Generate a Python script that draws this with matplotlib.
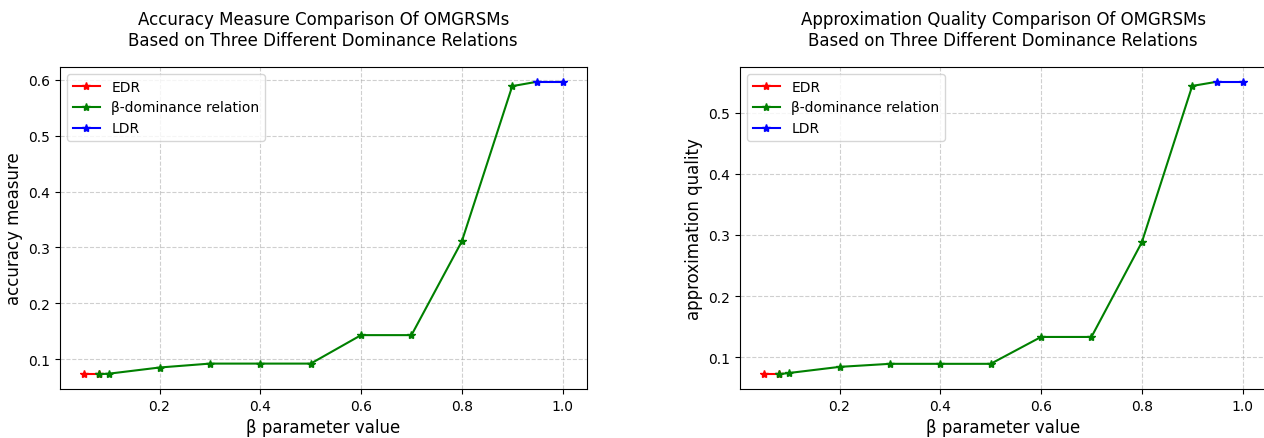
import numpy as np
import matplotlib.pyplot as plt

# beta values per relation
edr_x = [0.05, 0.08]
beta_x = [0.08, 0.1, 0.2, 0.3, 0.4, 0.5, 0.6, 0.7, 0.8, 0.9, 0.95]
ldr_x = [0.95, 1.0]

# accuracy measure
acc_edr = [0.073, 0.073]
acc_beta = [0.073, 0.074, 0.085, 0.092, 0.092, 0.092, 0.143, 0.143, 0.311, 0.589, 0.597]
acc_ldr = [0.597, 0.597]

# approximation quality
apq_edr = [0.072, 0.072]
apq_beta = [0.072, 0.074, 0.084, 0.089, 0.089, 0.089, 0.133, 0.133, 0.288, 0.544, 0.551]
apq_ldr = [0.551, 0.551]

fig, axes = plt.subplots(1, 2, figsize=(12.64, 4.39), dpi=100)

panels = [
    (axes[0], acc_edr, acc_beta, acc_ldr, 'accuracy measure',
     'Accuracy Measure Comparison Of OMGRSMs\nBased on Three Different Dominance Relations'),
    (axes[1], apq_edr, apq_beta, apq_ldr, 'approximation quality',
     'Approximation Quality Comparison Of OMGRSMs\nBased on Three Different Dominance Relations'),
]

for ax, y_edr, y_beta, y_ldr, ylab, title in panels:
    ax.plot(edr_x, y_edr, 'r-*', label='EDR')
    ax.plot(beta_x[:-1], y_beta[:-1], 'g-*', label='β-dominance relation')
    ax.plot(beta_x[-2:], y_beta[-2:], 'g-')
    ax.plot(ldr_x, y_ldr, 'b-*', label='LDR')
    ax.set_xlabel('β parameter value', fontsize=12)
    ax.set_ylabel(ylab, fontsize=12)
    ax.set_title(title, fontsize=12, pad=16)
    ax.grid(True, linestyle='--', alpha=0.6)
    ax.legend(loc='upper left')

plt.subplots_adjust(left=0.0475, right=1.002, top=0.845, bottom=0.112, wspace=0.2915)
plt.savefig('out.png')
